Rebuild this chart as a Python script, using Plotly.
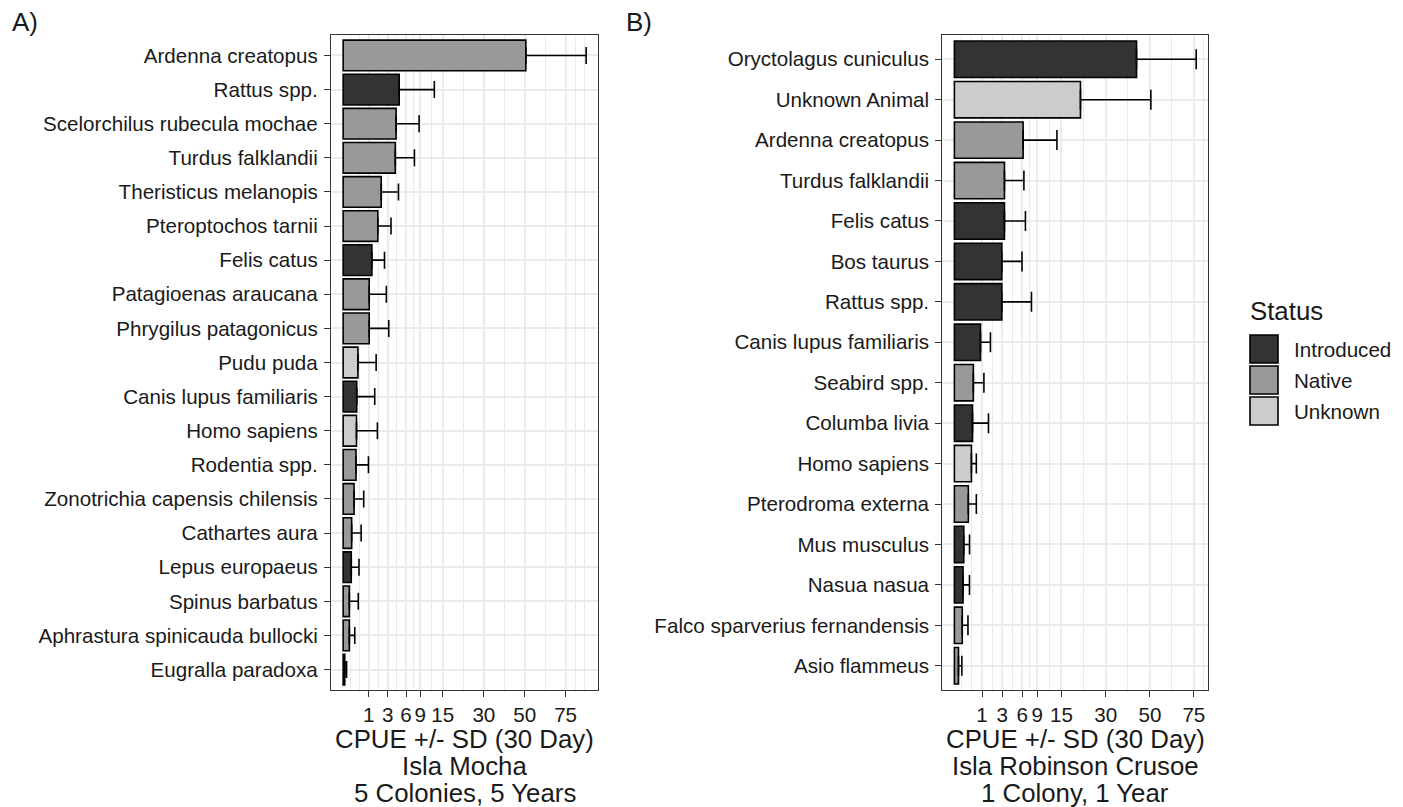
import numpy as np
import plotly.graph_objects as go

# ---------------- data ----------------
species_a = ["Ardenna creatopus", "Rattus spp.", "Scelorchilus rubecula mochae", "Turdus falklandii",
             "Theristicus melanopis", "Pteroptochos tarnii", "Felis catus", "Patagioenas araucana",
             "Phrygilus patagonicus", "Pudu puda", "Canis lupus familiaris", "Homo sapiens",
             "Rodentia spp.", "Zonotrichia capensis chilensis", "Cathartes aura", "Lepus europaeus",
             "Spinus barbatus", "Aphrastura spinicauda bullocki", "Eugralla paradoxa"]
status_a = ["Native", "Introduced", "Native", "Native", "Native", "Native", "Introduced", "Native",
            "Native", "Unknown", "Introduced", "Unknown", "Native", "Native", "Native", "Introduced",
            "Native", "Native", "Native"]
mean_a = [50.6, 4.76, 4.25, 4.12, 2.20, 1.82, 1.25, 1.03, 1.03, 0.33, 0.28, 0.27, 0.25, 0.18,
          0.11, 0.10, 0.058, 0.058, 0.004]
sd_a = [38.9, 7.84, 4.49, 3.58, 2.44, 1.65, 1.34, 1.80, 2.12, 1.32, 1.23, 1.51, 0.72, 0.46,
        0.38, 0.28, 0.29, 0.147, 0.014]

species_b = ["Oryctolagus cuniculus", "Unknown Animal", "Ardenna creatopus", "Turdus falklandii",
             "Felis catus", "Bos taurus", "Rattus spp.", "Canis lupus familiaris", "Seabird spp.",
             "Columba livia", "Homo sapiens", "Pterodroma externa", "Mus musculus", "Nasua nasua",
             "Falco sparverius fernandensis", "Asio flammeus"]
status_b = ["Introduced", "Unknown", "Native", "Native", "Introduced", "Introduced", "Introduced",
            "Introduced", "Native", "Introduced", "Unknown", "Native", "Introduced", "Introduced",
            "Native", "Native"]
mean_b = [43.4, 20.8, 6.18, 3.28, 3.28, 2.94, 2.94, 0.89, 0.47, 0.43, 0.38, 0.255, 0.115, 0.098,
          0.081, 0.022]
sd_b = [33.1, 29.7, 7.58, 3.04, 3.32, 3.04, 4.83, 0.81, 0.67, 1.09, 0.25, 0.375, 0.185, 0.20,
        0.16, 0.051]

tick_values = [1, 3, 6, 9, 15, 30, 50, 75]
tick_labels = ["1", "3", "6", "9", "15", "30", "50", "75"]

statuses = ["Introduced", "Native", "Unknown"]
fills = {"Introduced": "#333333", "Native": "#999999", "Unknown": "#CCCCCC"}

title_a = ["CPUE +/- SD (30 Day)", "Isla Mocha", "5 Colonies, 5 Years"]
title_b = ["CPUE +/- SD (30 Day)", "Isla Robinson Crusoe", "1 Colony, 1 Year"]

# ---------------- layout geometry ----------------
W, H = 1403, 807
FONT = "Liberation Sans, Arial, sans-serif"
TXT = "#1a1a1a"
AX_FS = 20.6
TITLE_FS = 25.8


def px_x(p):
    return p / W


def px_y(p):
    return 1 - p / H


panel_top, panel_bot = 35, 690
panels = [
    dict(names=species_a, status=status_a, mean=mean_a, sd=sd_a, x0=331, x1=598.3,
         xa="x", ya="y", cap=8.5, titles=title_a, tag="A)", tagx=10),
    dict(names=species_b, status=status_b, mean=mean_b, sd=sd_b, x0=942.3, x1=1208.3,
         xa="x2", ya="y2", cap=10, titles=title_b, tag="B)", tagx=624),
]

# sqrt-scale major & minor breaks (ggplot-like)
s_major = np.sqrt(np.array(tick_values, dtype=float))
bd = s_major[1] - s_major[0]
ext = np.concatenate([[s_major[0] - bd], s_major, [s_major[-1] + bd]])
s_minor = []
for a, b in zip(ext[:-1], ext[1:]):
    s_minor += [a, (a + b) / 2]
s_minor.append(ext[-1])
s_minor = [v for v in s_minor if not np.any(np.isclose(v, s_major))]

fig = go.Figure()
annotations = []
shapes = []

for i, p in enumerate(panels):
    m = np.array(p["mean"], dtype=float)
    s = np.array(p["sd"], dtype=float)
    sm = np.sqrt(m)
    up = np.sqrt(m + s)
    M = up.max()
    xr = [-0.05 * M, 1.05 * M]
    n = len(p["names"])
    for st in statuses:
        idx = [k for k, v in enumerate(p["status"]) if v == st]
        if not idx:
            continue
        fig.add_trace(go.Bar(
            x=sm[idx], y=[p["names"][k] for k in idx], orientation="h", width=0.9,
            marker=dict(color=fills[st], line=dict(color="black", width=1.6)),
            error_x=dict(type="data", symmetric=False, array=(up - sm)[idx],
                         arrayminus=np.zeros(len(idx)), color="black", thickness=1.6,
                         width=p["cap"]),
            xaxis=p["xa"], yaxis=p["ya"], showlegend=False, name=st,
        ))
    axkey = "xaxis" if i == 0 else "xaxis2"
    aykey = "yaxis" if i == 0 else "yaxis2"
    fig.update_layout(**{
        axkey: dict(
            domain=[px_x(p["x0"]), px_x(p["x1"])], range=xr, anchor=p["ya"],
            tickmode="array", tickvals=s_major, ticktext=tick_labels,
            ticks="outside", ticklen=6, tickwidth=1.2, tickcolor="#333333",
            tickfont=dict(size=AX_FS, color=TXT, family=FONT),
            showgrid=True, gridcolor="#EBEBEB", gridwidth=1.6,
            minor=dict(tickmode="array", tickvals=s_minor, showgrid=True,
                       gridcolor="#EBEBEB", gridwidth=0.8, ticks=""),
            showline=True, mirror=True, linecolor="#333333", linewidth=1.2,
            zeroline=False, automargin=False, fixedrange=True,
        ),
        aykey: dict(
            domain=[px_y(panel_bot), px_y(panel_top)], anchor=p["xa"],
            type="category", categoryorder="array", categoryarray=p["names"],
            range=[n - 1 + 0.6, -0.6],
            ticks="outside", ticklen=6, tickwidth=1.2, tickcolor="#333333",
            tickfont=dict(size=AX_FS, color=TXT, family=FONT), ticklabelstandoff=2,
            showgrid=True, gridcolor="#EBEBEB", gridwidth=1.6,
            showline=True, mirror=True, linecolor="#333333", linewidth=1.2,
            zeroline=False, automargin=False, fixedrange=True,
        ),
    })
    cx = (p["x0"] + p["x1"]) / 2
    for line, yy in zip(p["titles"], [739, 766, 793]):
        annotations.append(dict(x=px_x(cx), y=px_y(yy), xref="paper", yref="paper",
                                text=line, showarrow=False, xanchor="center", yanchor="middle",
                                font=dict(size=TITLE_FS, color=TXT, family=FONT)))
    annotations.append(dict(x=px_x(p["tagx"]), y=px_y(22), xref="paper", yref="paper",
                            text=p["tag"], showarrow=False, xanchor="left", yanchor="middle",
                            font=dict(size=26, color=TXT, family=FONT)))

# legend (drawn manually, ggplot style)
annotations.append(dict(x=px_x(1248), y=px_y(311), xref="paper", yref="paper", text="Status",
                        showarrow=False, xanchor="left", yanchor="middle",
                        font=dict(size=TITLE_FS, color=TXT, family=FONT)))
for j, st in enumerate(statuses):
    top = 335 + j * 31
    shapes.append(dict(type="rect", xref="paper", yref="paper",
                       x0=px_x(1250), x1=px_x(1278), y0=px_y(top + 28), y1=px_y(top),
                       fillcolor=fills[st], line=dict(color="black", width=1.6)))
    annotations.append(dict(x=px_x(1292), y=px_y(top + 14), xref="paper", yref="paper", text=st,
                            showarrow=False, xanchor="left", yanchor="middle",
                            font=dict(size=AX_FS, color=TXT, family=FONT)))

fig.update_layout(
    width=W, height=H, margin=dict(l=0, r=0, t=0, b=0),
    paper_bgcolor="white", plot_bgcolor="white", barmode="overlay",
    font=dict(family=FONT, color=TXT), showlegend=False,
    annotations=annotations, shapes=shapes,
)

fig.write_html("out.html")
